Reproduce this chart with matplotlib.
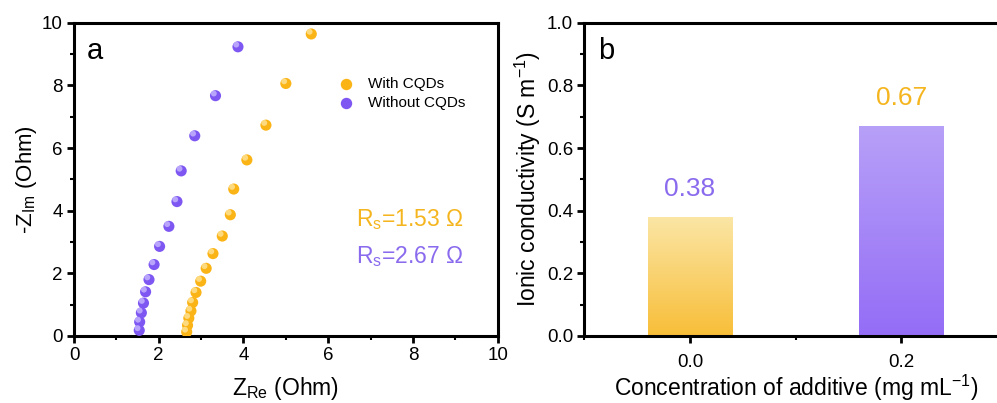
import numpy as np
import matplotlib
matplotlib.use("Agg")
import matplotlib.pyplot as plt
from matplotlib.colors import LinearSegmentedColormap
from matplotlib.ticker import MultipleLocator

plt.rcParams['font.family'] = ['Liberation Sans', 'DejaVu Sans']
plt.rcParams['mathtext.fontset'] = 'custom'
plt.rcParams['mathtext.rm'] = 'Liberation Sans'
plt.rcParams['mathtext.it'] = 'Liberation Sans'

# ---- data: panel a (Nyquist) ----
with_re = [5.60, 5.00, 4.53, 4.08, 3.77, 3.69, 3.50, 3.28, 3.12, 2.99, 2.88, 2.80, 2.76, 2.71, 2.68, 2.66]
with_im = [9.64, 8.06, 6.73, 5.62, 4.69, 3.87, 3.19, 2.63, 2.16, 1.75, 1.39, 1.07, 0.80, 0.57, 0.34, 0.13]
without_re = [3.87, 3.34, 2.85, 2.53, 2.43, 2.24, 2.02, 1.89, 1.77, 1.69, 1.64, 1.59, 1.55, 1.54]
without_im = [9.23, 7.67, 6.39, 5.27, 4.29, 3.50, 2.86, 2.28, 1.80, 1.41, 1.05, 0.74, 0.45, 0.18]
series_labels = ["With CQDs", "Without CQDs"]
rs_texts = ["1.53", "2.67"]

# ---- data: panel b (bars) ----
conc = [0.0, 0.2]
conduct = [0.38, 0.67]
conc_ticklabels = ["0.0", "0.2"]

ORANGE = "#FBB416"
PURPLE = "#7E57F2"
ORANGE_T = "#F5B51E"
PURPLE_T = "#8A6BEE"

fig = plt.figure(figsize=(9.97, 4.03), dpi=100)
W, H = 997, 403
axa = fig.add_axes([74 / W, (H - 336) / H, (497.7 - 74) / W, (336 - 22.7) / H])
axb = fig.add_axes([584.3 / W, (H - 336) / H, (1007 - 584.3) / W, (336 - 22.7) / H])

def style(ax):
    for s in ax.spines.values():
        s.set_linewidth(2.2)
    ax.tick_params(which='major', direction='out', length=5, width=2, labelsize=13.5,
                   top=False, right=False, pad=3)
    ax.tick_params(which='minor', direction='out', length=3, width=1.5,
                   top=False, right=False)

def spheres(ax, x, y, base, light, label):
    ax.scatter(x, y, s=64, color=base, edgecolors='none', zorder=3, label=label)
    ax.scatter(np.asarray(x) - 0.04, np.asarray(y) + 0.07, s=18, color=light,
               edgecolors='none', zorder=4, alpha=0.8)

# ---- panel a ----
style(axa)
spheres(axa, with_re, with_im, ORANGE, "#FFE49A", series_labels[0])
spheres(axa, without_re, without_im, PURPLE, "#C8B8FF", series_labels[1])
axa.set_xlim(0, 10)
axa.set_ylim(0, 10)
axa.xaxis.set_major_locator(MultipleLocator(2))
axa.xaxis.set_minor_locator(MultipleLocator(1))
axa.yaxis.set_major_locator(MultipleLocator(2))
axa.yaxis.set_minor_locator(MultipleLocator(1))
axa.set_xlabel(r'Z$_\mathregular{Re}$ (Ohm)', fontsize=16.5, labelpad=8)
axa.set_ylabel(r'-Z$_\mathregular{Im}$ (Ohm)', fontsize=16, labelpad=2)
axa.text(0.03, 0.955, 'a', transform=axa.transAxes, fontsize=21, va='top', ha='left')

h = [axa.scatter([], [], s=64, color=ORANGE), axa.scatter([], [], s=64, color=PURPLE)]
axa.legend(h, series_labels, loc='upper left', bbox_to_anchor=(0.607, 0.85),
           frameon=False, fontsize=11, handlelength=1.0, handletextpad=0.9,
           labelspacing=0.3, borderpad=0, markerscale=0.9)

axa.text(0.665, 0.371, r'R$_\mathregular{s}$=' + rs_texts[0] + ' Ω', transform=axa.transAxes,
         fontsize=16.5, color=ORANGE_T, va='center', ha='left')
axa.text(0.665, 0.252, r'R$_\mathregular{s}$=' + rs_texts[1] + ' Ω', transform=axa.transAxes,
         fontsize=16.5, color=PURPLE_T, va='center', ha='left')

# ---- panel b ----
style(axb)
bar_w = 0.08
bars = axb.bar(conc, conduct, width=bar_w, color='none', edgecolor='none', zorder=2)
grads = [("#F8BE38", "#FBE6A6"), ("#946DF6", "#B7A0F8")]
for b, (c0, c1) in zip(bars, grads):
    cmap = LinearSegmentedColormap.from_list('g', [c0, c1])
    x0, y0 = b.get_x(), b.get_y()
    w, hh = b.get_width(), b.get_height()
    grad = np.linspace(0, 1, 256).reshape(-1, 1)
    im = axb.imshow(grad, cmap=cmap, origin='lower', aspect='auto',
                    extent=[x0, x0 + w, y0, y0 + hh], zorder=2)
    im.set_clip_path(b)
axb.set_xlim(-0.1, 0.3)
axb.set_ylim(0, 1.0)
axb.set_xticks(conc)
axb.set_xticklabels(conc_ticklabels)
axb.xaxis.set_minor_locator(MultipleLocator(0.1))
axb.yaxis.set_major_locator(MultipleLocator(0.2))
axb.yaxis.set_minor_locator(MultipleLocator(0.1))
axb.yaxis.set_major_formatter(matplotlib.ticker.FormatStrFormatter('%.1f'))
axb.tick_params(axis='x', which='major', pad=8)
label_colors = [PURPLE_T, ORANGE_T]
for x, v, c in zip(conc, conduct, label_colors):
    axb.text(x, v + 0.05, f'{v:.2f}', ha='center', va='bottom', fontsize=19, color=c)
axb.set_xlabel(r'Concentration of additive (mg mL$^\mathregular{-1}$)', fontsize=16.5, labelpad=1)
axb.xaxis.label.set_x((795.6 - 584.3) / (1007 - 584.3))
axb.set_ylabel(r'Ionic conductivity (S m$^\mathregular{-1}$)', fontsize=16.5, labelpad=3)
axb.text(0.033, 0.955, 'b', transform=axb.transAxes, fontsize=21, va='top', ha='left')

fig.savefig('out.png', dpi=100)
